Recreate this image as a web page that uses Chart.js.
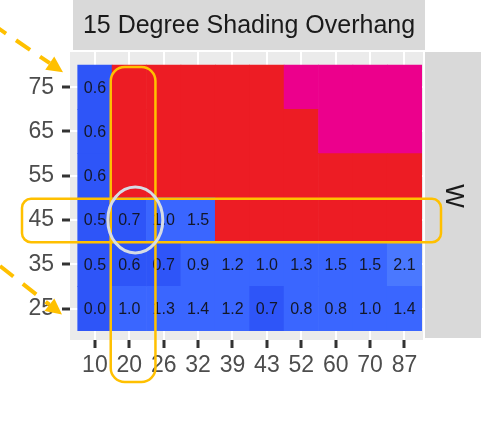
<!DOCTYPE html>
<html>
<head>
<meta charset="utf-8">
<script src="https://cdn.jsdelivr.net/npm/chart.js@4.4.1/dist/chart.umd.min.js"></script>
<style>
  html, body { margin: 0; background: #fff; }
</style>
</head>
<body>
<canvas id="heat" width="501" height="438"></canvas>
<script>
// chart data
const overhangDepths = ["10", "20", "26", "32", "39", "43", "52", "60", "70", "87"];
const tiltLabels = ["25", "35", "45", "55", "65", "75"];
// numbers = labelled blue cells, "red" / "pink" = unlabelled cells
const row25 = [0.0, 1.0, 1.3, 1.4, 1.2, 0.7, 0.8, 0.8, 1.0, 1.4];
const row35 = [0.5, 0.6, 0.7, 0.9, 1.2, 1.0, 1.3, 1.5, 1.5, 2.1];
const row45 = [0.5, 0.7, 1.0, 1.5, "red", "red", "red", "red", "red", "red"];
const row55 = [0.6, "red", "red", "red", "red", "red", "red", "red", "red", "red"];
const row65 = [0.6, "red", "red", "red", "red", "red", "red", "pink", "pink", "pink"];
const row75 = [0.6, "red", "red", "red", "red", "red", "pink", "pink", "pink", "pink"];
const panelTitle = "15 Degree Shading Overhang";
const facetLabel = "W";

const rows = [row25, row35, row45, row55, row65, row75];

const cellColor = (v) => {
    if (v === "red") return "#ED1C24";
    if (v === "pink") return "#EC008C";
    if (v >= 2) return "#4A78FF";
    if (v <= 0.7) return "#2E55F8";
    return "#3A66FF";
};

const axisFont = { family: "'Liberation Sans', Arial, sans-serif", size: 23 };
const gold = "#FFC000";

const datasets = rows.map((row, r) => ({
    label: tiltLabels[r],
    data: row.map((v, i) => ({ x: i, y: [r, r + 1], v: v })),
    backgroundColor: row.map(cellColor),
    borderWidth: 0,
    barPercentage: 1,
    categoryPercentage: 1,
    grouped: false,
}));

const panelBg = {
    id: "panelBg",
    beforeDraw(chart) {
        const { ctx, chartArea: a } = chart;
        ctx.save();
        ctx.fillStyle = "#EBEBEB";
        ctx.fillRect(a.left, a.top, a.right - a.left, a.bottom - a.top);
        ctx.restore();
    },
};

const cellLabels = {
    id: "cellLabels",
    afterDatasetsDraw(chart) {
        const ctx = chart.ctx;
        ctx.save();
        ctx.font = "16px 'Liberation Sans', Arial, sans-serif";
        ctx.fillStyle = "#131728";
        ctx.textAlign = "center";
        ctx.textBaseline = "middle";
        chart.data.datasets.forEach((ds, d) => {
            const meta = chart.getDatasetMeta(d);
            ds.data.forEach((pt, i) => {
                if (typeof pt.v !== "number") return;
                const c = meta.data[i].getCenterPoint();
                ctx.fillText(pt.v.toFixed(1), c.x, c.y + 1);
            });
        });
        ctx.restore();
    },
};

function roundRect(ctx, x0, y0, x1, y1, r) {
    ctx.beginPath();
    ctx.moveTo(x0 + r, y0);
    ctx.arcTo(x1, y0, x1, y1, r);
    ctx.arcTo(x1, y1, x0, y1, r);
    ctx.arcTo(x0, y1, x0, y0, r);
    ctx.arcTo(x0, y0, x1, y0, r);
    ctx.closePath();
    ctx.stroke();
}

function dashedArrow(ctx, sx, sy, tx, ty) {
    const ang = Math.atan2(ty - sy, tx - sx);
    const headLen = 16, headHalf = 8;
    const bx = tx - headLen * Math.cos(ang), by = ty - headLen * Math.sin(ang);
    ctx.save();
    ctx.strokeStyle = gold;
    ctx.fillStyle = gold;
    ctx.lineWidth = 4;
    ctx.setLineDash([17, 12]);
    ctx.beginPath();
    ctx.moveTo(sx, sy);
    ctx.lineTo(bx, by);
    ctx.stroke();
    ctx.setLineDash([]);
    ctx.beginPath();
    ctx.moveTo(tx, ty);
    ctx.lineTo(bx + headHalf * Math.sin(ang), by - headHalf * Math.cos(ang));
    ctx.lineTo(bx - headHalf * Math.sin(ang), by + headHalf * Math.cos(ang));
    ctx.closePath();
    ctx.fill();
    ctx.restore();
}

const strips = {
    id: "strips",
    afterDraw(chart) {
        const { ctx, chartArea: a } = chart;
        const xs = chart.scales.x, ys = chart.scales.y;
        ctx.save();
        // top strip
        ctx.fillStyle = "#D9D9D9";
        ctx.fillRect(a.left + 3, 0, a.right - a.left - 1, a.top - 2);
        ctx.fillStyle = "#1A1A1A";
        ctx.font = "25px 'Liberation Sans', Arial, sans-serif";
        ctx.textAlign = "center";
        ctx.textBaseline = "middle";
        ctx.fillText(panelTitle, (a.left + 3 + a.right + 2) / 2, 26);
        // right strip
        ctx.fillStyle = "#D9D9D9";
        ctx.fillRect(a.right + 2, a.top, 56, a.bottom - a.top - 2);
        ctx.fillStyle = "#1A1A1A";
        ctx.translate(a.right + 30, (a.top + a.bottom) / 2);
        ctx.rotate(Math.PI / 2);
        ctx.fillText(facetLabel, 0, 0);
        ctx.restore();

        // annotations
        const unitX = xs.getPixelForValue(1) - xs.getPixelForValue(0);
        ctx.save();
        ctx.strokeStyle = gold;
        ctx.lineWidth = 2.5;
        const cx = xs.getPixelForValue(1);
        roundRect(ctx, cx - unitX * 0.54, ys.getPixelForValue(6) + 2, cx + unitX * 0.76, a.bottom + 42, 14);
        roundRect(ctx, 22, ys.getPixelForValue(3) + 1, a.right + 18, ys.getPixelForValue(2), 9);
        ctx.strokeStyle = "#D6DCE5";
        ctx.lineWidth = 3;
        ctx.beginPath();
        ctx.ellipse(cx + 6, ys.getPixelForValue(2.5), 27.5, 33, 0, 0, Math.PI * 2);
        ctx.stroke();
        ctx.restore();

        dashedArrow(ctx, -8, 24, 63, ys.getPixelForValue(5.5) - 15);
        dashedArrow(ctx, 0, 266, 62, ys.getPixelForValue(0.5) + 6);
    },
};

new Chart("heat", {
    type: "bar",
    data: { datasets: datasets },
    plugins: [panelBg, cellLabels, strips],
    options: {
        responsive: false,
        animation: false,
        devicePixelRatio: 1,
        layout: { padding: { top: 52, right: 78, left: 0, bottom: 0 } },
        plugins: { legend: { display: false }, tooltip: { enabled: false } },
        scales: {
            x: {
                type: "linear",
                offset: false,
                min: -0.724,
                max: 9.538,
                afterBuildTicks: (s) => { s.ticks = overhangDepths.map((_, i) => ({ value: i })); },
                afterFit: (s) => { s.height = 98; },
                ticks: {
                    callback: (v, i) => overhangDepths[i],
                    font: axisFont,
                    color: "#4D4D4D",
                    padding: 4,
                    autoSkip: false,
                    maxRotation: 0,
                },
                grid: { offset: false, color: "#FFFFFF", lineWidth: 2, tickColor: "#333333", tickWidth: 3, tickLength: 8 },
                border: { display: false },
            },
            y: {
                type: "linear",
                min: -0.21,
                max: 6.294,
                afterBuildTicks: (s) => { s.ticks = tiltLabels.map((_, i) => ({ value: i + 0.5 })); },
                afterFit: (s) => { s.width = 70; },
                ticks: {
                    callback: (v, i) => tiltLabels[i],
                    font: axisFont,
                    color: "#4D4D4D",
                    padding: 8,
                    autoSkip: false,
                },
                grid: { color: "#FFFFFF", lineWidth: 2, tickColor: "#333333", tickWidth: 3, tickLength: 8 },
                border: { display: false },
            },
        },
    },
});
</script>
</body>
</html>
